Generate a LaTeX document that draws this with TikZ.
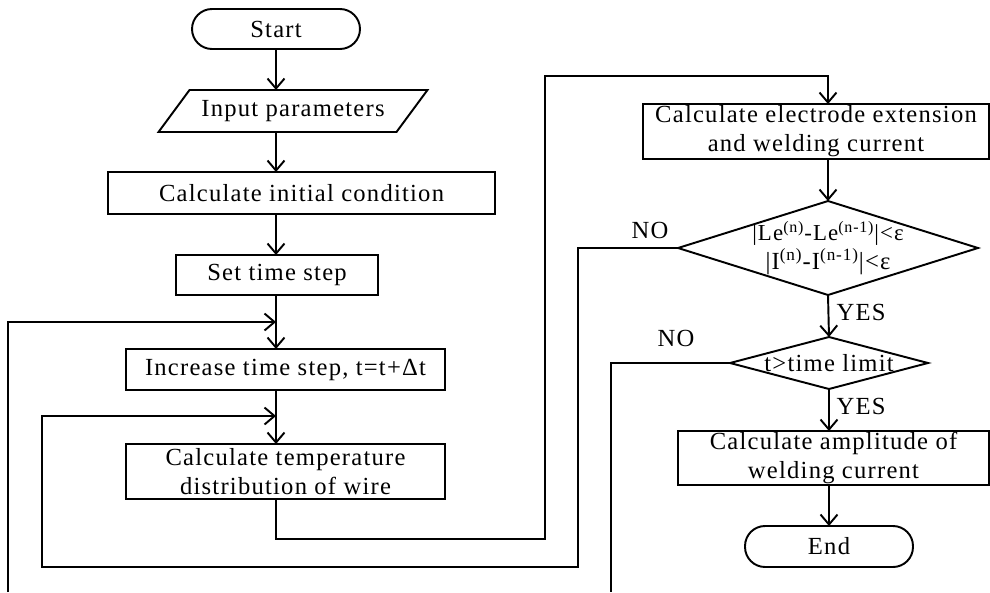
\documentclass[tikz,border=0pt]{standalone}
\usepackage{fontspec}
\setmainfont{Liberation Serif}[LetterSpace=5]
\usetikzlibrary{arrows.meta,calc}
\begin{document}
\begin{tikzpicture}[x=0.02cm,y=-0.02cm,
  line width=1.1pt,
  font=\fontsize{14}{16.5}\selectfont,
  every node/.style={inner sep=0pt,outer sep=0pt,align=center},
  box/.style={draw,rectangle},
  term/.style={draw,rectangle,rounded corners=0.4cm},
  plain/.style={rectangle},
  arr/.style={-{Straight Barb[length=2mm,width=3.4mm,line width=1.1pt]}},
  lab/.style={font=\fontsize{14}{16}\selectfont}]
\useasboundingbox (0,0) rectangle (990,592);

\node[term,minimum width=3.36cm,minimum height=0.8cm] (start) at (276,29) {Start};
\node[plain,minimum width=4.76cm,minimum height=0.84cm] (input) at (293,111) {Input parameters};
\draw ([xshift=0.31cm]input.north west) -- ([xshift=0.31cm]input.north east)
      -- ([xshift=-0.31cm]input.south east) -- ([xshift=-0.31cm]input.south west) -- cycle;
\node[box,minimum width=7.74cm,minimum height=0.84cm] (init) at (301.5,193) {Calculate initial condition};
\node[box,minimum width=4.04cm,minimum height=0.8cm] (set) at (277,275) {Set time step};
\node[box,minimum width=6.38cm,minimum height=0.82cm] (incr) at (285.5,369.5) {Increase time step, t=t+Δt};
\node[box,minimum width=6.38cm,minimum height=1.1cm] (temp) at (285.5,471.5) {Calculate temperature\\distribution of wire};
\node[box,minimum width=6.92cm,minimum height=1.1cm] (elec) at (816,131.5) {Calculate electrode extension\\and welding current};
\node[plain,minimum width=6.0cm,minimum height=1.88cm] (dia1) at (828,248)
  {\fontsize{13}{15}\selectfont |Le\textsuperscript{(n)}-Le\textsuperscript{(n-1)}|<ε\\|I\textsuperscript{(n)}-I\textsuperscript{(n-1)}|<ε};
\draw (dia1.north) -- (dia1.east) -- (dia1.south) -- (dia1.west) -- cycle;
\node[plain,minimum width=3.96cm,minimum height=1.04cm] (dia2) at (829,363) {t>time limit};
\draw (dia2.north) -- (dia2.east) -- (dia2.south) -- (dia2.west) -- cycle;
\node[box,minimum width=6.22cm,minimum height=1.08cm] (amp) at (833.5,458) {Calculate amplitude of\\welding current};
\node[term,minimum width=3.36cm,minimum height=0.82cm] (end) at (829,546.5) {End};

\node[lab] (no1) at (650,230) {NO};
\node[lab] (no2) at (676,338) {NO};
\node[lab] (yes1) at (861,312) {YES};
\node[lab] (yes2) at (861,406) {YES};

\coordinate (j1) at (276,322);
\coordinate (j2) at (276,416);
\coordinate (o1) at (8,592);

% main column
\draw[arr] (start.south) -- (start.south |- input.north);
\draw[arr] (start.south |- input.south) -- (start.south |- init.north);
\draw[arr] (start.south |- init.south) -- (start.south |- set.north);
\draw[arr] (start.south |- set.south) -- (start.south |- incr.north);
\draw[arr] (start.south |- incr.south) -- (start.south |- temp.north);
% outer loop
\draw[arr] (o1) -- (8,322) -- (j1);
% temp -> electrode
\draw[arr] (start.south |- temp.south) -- (276,539) -- (545,539) -- (545,76) -- (dia1.north |- 0,76) -- (dia1.north |- elec.north);
\draw[arr] (dia1.north |- elec.south) -- (dia1.north);
% NO from dia1 -> inner loop
\draw[arr] (dia1.west) -- (578,248) -- (578,567) -- (42,567) -- (42,416) -- (j2);
% YES
\draw[arr] (dia1.south) -- (dia2.north);
\draw[arr] (dia2.south) -- (dia2.south |- amp.north);
\draw[arr] (dia2.south |- amp.south) -- (dia2.south |- end.north);
% NO from dia2
\draw (dia2.west) -- (611,363) -- (611,592);
\end{tikzpicture}
\end{document}
